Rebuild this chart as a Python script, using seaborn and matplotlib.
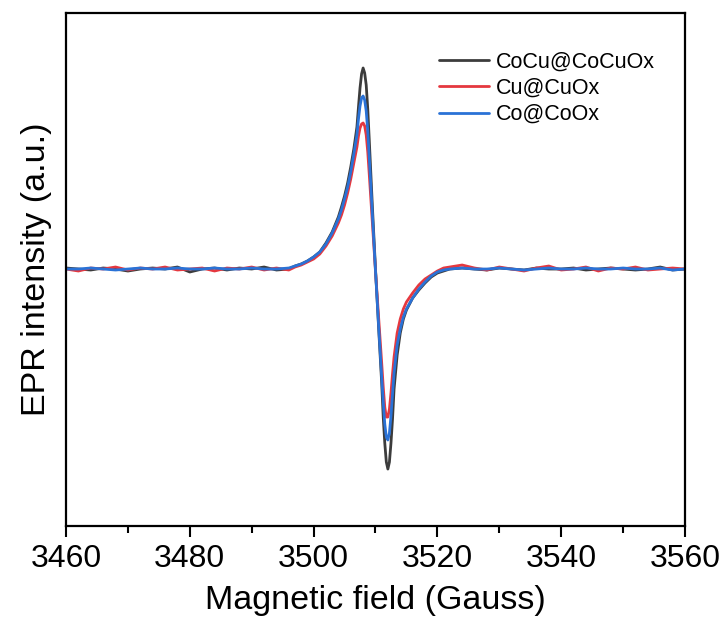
import numpy as np
import pandas as pd
import matplotlib
matplotlib.use("Agg")
import matplotlib.pyplot as plt
import seaborn as sns
from matplotlib.ticker import MultipleLocator

# ---------------- data (arbitrary units) ----------------
field_base_left = [3460, 3462, 3464, 3466, 3468, 3470, 3472, 3474, 3476, 3478,
                   3480, 3482, 3484, 3486, 3488, 3490, 3492, 3494, 3496]
field_center = [3497, 3498, 3499, 3500, 3501, 3502, 3503, 3504, 3504.5, 3505,
                3505.5, 3506, 3506.5, 3507, 3507.25, 3507.5, 3507.75, 3508, 3508.25, 3508.5,
                3508.75, 3509, 3509.5, 3510, 3510.5, 3511, 3511.25, 3511.5, 3511.75, 3512,
                3512.25, 3512.5, 3512.75, 3513, 3513.5, 3514, 3514.5, 3515,
                3516, 3517, 3518, 3519, 3520, 3521, 3522]
field_base_right = [3524, 3526, 3528, 3530, 3532, 3534, 3536, 3538, 3540, 3542,
                    3544, 3546, 3548, 3550, 3552, 3554, 3556, 3558, 3560]
field = field_base_left + field_center + field_base_right

cocu_left = [1, 0, -1, 1, 0, -2, 0, 1, 0, 2, -3, 0, 1, -1, 1, 0, 2, -1, 0]
cocu_center = [3, 5, 8, 12, 17, 26, 37, 52, 62, 73,
               86, 102, 120, 142, 162, 181, 195, 201, 196, 184,
               160, 128, 62, 0, -58, -114, -148, -174, -193, -200,
               -193, -174, -150, -120, -86, -64, -50, -41,
               -29, -21, -14, -8, -4, -2, 0]
cocu_right = [1, 0, -1, 1, 0, -1, 1, 0, 0, 1, -1, 0, 1, 0, -1, 0, 2, -1, 0]
cocu = cocu_left + cocu_center + cocu_right

cu_left = [0, -2, 1, 0, 2, -1, 1, 0, 2, -1, 0, 1, -2, 1, 0, 2, -1, 1, -1]
cu_center = [2, 4, 7, 10, 15, 23, 33, 46, 54, 64,
             76, 90, 106, 122, 133, 141, 145, 146, 143, 134,
             117, 94, 46, -2, -48, -94, -118, -138, -148, -148,
             -140, -124, -105, -88, -64, -50, -40, -33,
             -24, -16, -10, -6, -2, 1, 2]
cu_right = [4, 1, -1, 2, 0, -2, 1, 3, -1, 0, 2, -2, 1, 0, 2, -1, 0, 1, 0]
cu = cu_left + cu_center + cu_right

co_left = [0, 0, 1, 0, -1, 0, 1, 0, 0, 1, 0, 0, 1, 0, 0, 1, 0, 0, 1]
co_center = [3, 5, 8, 12, 17, 25, 36, 50, 59, 70,
             82, 97, 115, 134, 150, 163, 171, 173, 169, 158,
             138, 111, 54, -2, -56, -108, -133, -155, -168, -171,
             -164, -147, -125, -104, -76, -60, -48, -40,
             -29, -20, -13, -7, -3, -1, 0]
co_right = [1, 0, 0, 1, 0, -1, 0, 1, 0, 0, 1, 0, 0, 1, 0, 0, 1, -1, 0]
co = co_left + co_center + co_right

labels = ["CoCu@CoCuOx", "Cu@CuOx", "Co@CoOx"]
colors = ["#3c3c3c", "#e5383f", "#2a72d6"]
series = [cocu, cu, co]

x_ticks = [3460, 3480, 3500, 3520, 3540, 3560]

# ---------------- plotting ----------------
sns.set_style("ticks")
plt.rcParams['font.family'] = ['Liberation Sans', 'DejaVu Sans']
plt.rcParams['text.color'] = 'black'
plt.rcParams['axes.labelcolor'] = 'black'

fig = plt.figure(figsize=(7.27, 6.30), dpi=100)
ax = fig.add_axes([0.0908, 0.165, 0.8514, 0.8144])

df = pd.concat([pd.DataFrame({"field": field, "intensity": s, "sample": lab})
                for s, lab in zip(series, labels)], ignore_index=True)

sns.lineplot(data=df, x="field", y="intensity", hue="sample", hue_order=labels,
             palette=colors, linewidth=2.0, sort=False, estimator=None, ax=ax)

ax.set_xlim(3460, 3560)
ax.set_ylim(-257, 256)
ax.set_xticks(x_ticks)
ax.xaxis.set_minor_locator(MultipleLocator(10))
ax.set_yticks([])

ax.tick_params(axis='x', which='major', direction='out', length=8, width=1.5,
               labelsize=23, pad=5, colors='black')
ax.tick_params(axis='x', which='minor', direction='out', length=5, width=1.5,
               colors='black')
for sp in ax.spines.values():
    sp.set_linewidth(1.6)
    sp.set_color('black')
    sp.set_visible(True)

ax.set_xlabel("Magnetic field (Gauss)", fontsize=24.5, labelpad=8)
ax.set_ylabel("EPR intensity (a.u.)", fontsize=24.5, labelpad=10)

leg = ax.legend(loc='upper right', bbox_to_anchor=(0.982, 0.963), frameon=False,
                fontsize=15.5, handlelength=2.3, handletextpad=0.32,
                labelspacing=0.25, borderpad=0.4)
for line in leg.get_lines():
    line.set_linewidth(2.0)

fig.savefig("out.png", dpi=100)
